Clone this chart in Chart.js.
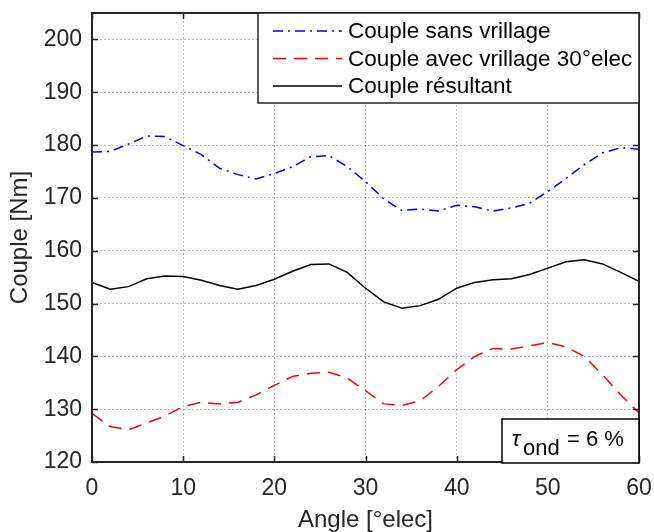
<!DOCTYPE html>
<html>
<head>
<meta charset="utf-8">
<script src="https://cdn.jsdelivr.net/npm/chart.js@4/dist/chart.umd.min.js"></script>
<style>
  html, body { margin: 0; padding: 0; background: #fff; }
  #wrap { width: 654px; height: 532px; }
</style>
</head>
<body>
<div id="wrap"><canvas id="chartCouple" width="654" height="532"></canvas></div>
<script>
// angle [°elec]
const angles = [0, 2, 4, 6, 8, 10, 12, 14, 16, 18, 20, 22, 24, 26, 28, 30,
                32, 34, 36, 38, 40, 42, 44, 46, 48, 50, 52, 54, 56, 58, 60];

const sansVrillage = [178.7, 178.8, 180.2, 181.7, 181.6, 179.9, 178.2, 175.6, 174.4, 173.6,
                      174.6, 175.9, 177.8, 178.0, 175.9, 173.1, 169.8, 167.6, 167.9, 167.5,
                      168.6, 168.3, 167.5, 168.1, 169.0, 171.2, 173.7, 176.3, 178.5, 179.5, 179.2];

const avecVrillage = [129.2, 126.7, 126.1, 127.4, 128.7, 130.5, 131.3, 131.0, 131.3, 132.7,
                      134.5, 136.2, 136.8, 137.0, 135.9, 133.5, 131.0, 130.7, 131.6, 134.3,
                      137.5, 140.0, 141.5, 141.4, 142.0, 142.6, 141.8, 140.0, 136.5, 132.7, 129.3];

const resultant = [154.0, 152.7, 153.2, 154.7, 155.2, 155.1, 154.4, 153.4, 152.7, 153.4,
                   154.6, 156.1, 157.4, 157.5, 155.9, 152.9, 150.3, 149.1, 149.6, 150.8,
                   152.9, 154.0, 154.5, 154.7, 155.5, 156.7, 157.9, 158.3, 157.5, 155.9, 154.2];

const seriesNames = ['Couple sans vrillage', 'Couple avec vrillage 30°elec', 'Couple résultant'];
const xTicks = [0, 10, 20, 30, 40, 50, 60];
const yTicks = [120, 130, 140, 150, 160, 170, 180, 190, 200];

const FONT = "'Liberation Sans', Arial, Helvetica, sans-serif";
const AXIS_COL = '#262626';

function pts(vals) {
  return angles.map((a, i) => ({x: a, y: vals[i]}));
}

function noPad(scale) {
  scale.paddingTop = 0;
  scale.paddingBottom = 0;
  scale.paddingLeft = 0;
  scale.paddingRight = 0;
}

// frame, inner ticks, legend box and the tau annotation
const decorations = {
  id: 'decorations',
  afterDatasetsDraw(chart) {
    const ctx = chart.ctx;
    const a = chart.chartArea;
    const xs = chart.scales.x, ys = chart.scales.y;
    ctx.save();
    ctx.strokeStyle = AXIS_COL;
    ctx.lineWidth = 1.5;
    ctx.setLineDash([]);
    ctx.beginPath();
    xTicks.forEach(v => {
      const px = Math.round(xs.getPixelForValue(v)) + 0.5;
      ctx.moveTo(px, a.bottom); ctx.lineTo(px, a.bottom - 6);
      ctx.moveTo(px, a.top); ctx.lineTo(px, a.top + 6);
    });
    yTicks.forEach(v => {
      const py = Math.round(ys.getPixelForValue(v)) + 0.5;
      ctx.moveTo(a.left, py); ctx.lineTo(a.left + 6, py);
      ctx.moveTo(a.right, py); ctx.lineTo(a.right - 6, py);
    });
    ctx.stroke();
    ctx.lineWidth = 2;
    ctx.strokeRect(a.left, a.top, a.right - a.left, a.bottom - a.top);

    // legend
    const lx = 258, ly = a.top, lw = a.right - lx, lh = 90;
    ctx.fillStyle = '#fff';
    ctx.fillRect(lx, ly, lw, lh);
    ctx.lineWidth = 1.5;
    ctx.strokeStyle = AXIS_COL;
    ctx.strokeRect(lx, ly, lw, lh);
    ctx.font = '22.5px ' + FONT;
    ctx.textBaseline = 'middle';
    ctx.textAlign = 'left';
    chart.data.datasets.forEach((ds, i) => {
      const cy = ly + 18 + i * 27.5;
      ctx.strokeStyle = ds.borderColor;
      ctx.lineWidth = ds.borderWidth;
      ctx.setLineDash(ds.borderDash || []);
      ctx.beginPath();
      ctx.moveTo(273, cy); ctx.lineTo(342, cy);
      ctx.stroke();
      ctx.setLineDash([]);
      ctx.fillStyle = '#000';
      ctx.fillText(ds.label, 348, cy + 1);
    });

    // tau_ond annotation
    const bx = 502, by = 419, bw = a.right - bx, bh = a.bottom - by + 1;
    ctx.fillStyle = '#fff';
    ctx.fillRect(bx, by, bw, bh);
    ctx.strokeStyle = '#000';
    ctx.lineWidth = 1.5;
    ctx.strokeRect(bx, by, bw, bh);
    ctx.fillStyle = '#000';
    ctx.textBaseline = 'alphabetic';
    ctx.font = 'italic 22px ' + FONT;
    ctx.fillText('τ', 512, 446);
    ctx.font = '22px ' + FONT;
    ctx.fillText('ond', 523, 455);
    ctx.fillText('= 6 %', 567, 446);
    ctx.restore();
  }
};

new Chart(document.getElementById('chartCouple'), {
  type: 'line',
  data: {
    datasets: [
      {
        label: seriesNames[0],
        data: pts(sansVrillage),
        borderColor: '#0000ff',
        borderWidth: 1.5,
        borderDash: [10, 5, 2, 5],
        pointRadius: 0,
        tension: 0
      },
      {
        label: seriesNames[1],
        data: pts(avecVrillage),
        borderColor: '#ff0000',
        borderWidth: 1.5,
        borderDash: [13, 8],
        pointRadius: 0,
        tension: 0
      },
      {
        label: seriesNames[2],
        data: pts(resultant),
        borderColor: '#000000',
        borderWidth: 1.5,
        pointRadius: 0,
        tension: 0
      }
    ]
  },
  options: {
    responsive: false,
    animation: false,
    events: [],
    layout: { padding: { top: 13, right: 15, left: 0, bottom: 0 } },
    plugins: {
      legend: { display: false },
      tooltip: { enabled: false }
    },
    scales: {
      x: {
        type: 'linear',
        min: 0,
        max: 60,
        afterFit(scale) { scale.height = 70; noPad(scale); },
        afterBuildTicks(scale) { scale.ticks = xTicks.map(v => ({value: v})); },
        ticks: {
          autoSkip: false,
          maxRotation: 0,
          padding: 15,
          color: AXIS_COL,
          font: { family: FONT, size: 23, lineHeight: 1 }
        },
        grid: { color: 'rgba(0,0,0,0.25)', lineWidth: 1, drawTicks: false },
        border: { display: false, dash: [2, 2] },
        title: {
          display: true,
          text: 'Angle [°elec]',
          color: AXIS_COL,
          font: { family: FONT, size: 24, lineHeight: 1 },
          padding: { top: 0, bottom: 0 }
        }
      },
      y: {
        min: 120,
        max: 205,
        afterFit(scale) { scale.width = 92; noPad(scale); },
        afterBuildTicks(scale) { scale.ticks = yTicks.map(v => ({value: v})); },
        ticks: {
          autoSkip: false,
          padding: 10,
          color: AXIS_COL,
          font: { family: FONT, size: 23, lineHeight: 1 }
        },
        grid: { color: 'rgba(0,0,0,0.25)', lineWidth: 1, drawTicks: false },
        border: { display: false, dash: [2, 2] },
        title: {
          display: true,
          text: 'Couple [Nm]',
          color: AXIS_COL,
          font: { family: FONT, size: 24, lineHeight: 1.2 },
          padding: { top: 6, bottom: 0 }
        }
      }
    }
  },
  plugins: [decorations]
});
</script>
</body>
</html>
